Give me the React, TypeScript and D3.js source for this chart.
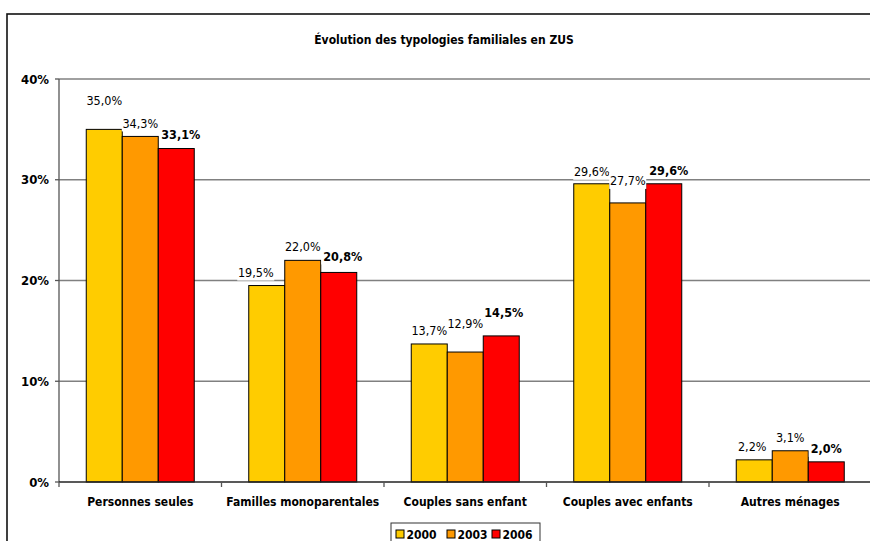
import React from "react";
import * as d3 from "d3";

const title = "Évolution des typologies familiales en ZUS";
const categories = [
  "Personnes seules",
  "Familles monoparentales",
  "Couples sans enfant",
  "Couples avec enfants",
  "Autres ménages",
];
const seriesNames = ["2000", "2003", "2006"];
const values2000 = [35.0, 19.5, 13.7, 29.6, 2.2];
const values2003 = [34.3, 22.0, 12.9, 27.7, 3.1];
const values2006 = [33.1, 20.8, 14.5, 29.6, 2.0];
const yTicks = [0, 10, 20, 30, 40];
const colors = ["#FFCC00", "#FF9900", "#FF0000"];

// label placement nudges (layout only): [dx, extra dy up] per series per category
const labelNudgeX = [
  [0, 0, 4.5],
  [-11, 0, 4],
  [0, 0, 2.5],
  [0, 0, 5],
  [-2, 0, 0],
];
const labelNudgeY = [
  [16, 0, 1],
  [0, 1, 3],
  [0, 16, 10],
  [-1, 9, 0],
  [0, 0, 0],
];

const W = 870;
const H = 541;
const FONT = "'DejaVu Sans Condensed', 'DejaVu Sans', sans-serif";

export default function App() {
  const seriesValues = [values2000, values2003, values2006];
  const plotLeft = 59;
  const plotRight = 871.5;
  const y = d3.scaleLinear().domain([0, 40]).range([482, 79]);
  const x0 = d3.scaleBand<string>().domain(categories).range([plotLeft, plotRight]).padding(0);
  const groupW = 108;
  const x1 = d3.scaleBand<string>().domain(seriesNames).range([0, groupW]).padding(0);
  const fmt = (v: number) => d3.format(".1f")(v).replace(".", ",") + "%";

  const labels: React.ReactNode[] = [];
  const bars: React.ReactNode[] = [];
  categories.forEach((c, ci) => {
    const gx = (x0(c) as number) + (x0.bandwidth() - groupW) / 2;
    seriesNames.forEach((s, si) => {
      const v = seriesValues[si][ci];
      const bx = gx + (x1(s) as number);
      const bw = x1.bandwidth();
      bars.push(
        <rect
          key={`b${ci}-${si}`}
          x={bx}
          y={y(v)}
          width={bw}
          height={y(0) - y(v)}
          fill={colors[si]}
          stroke="#000"
          strokeWidth={1}
        />
      );
      const bold = si === 2;
      const text = fmt(v);
      const cx = bx + bw / 2 + labelNudgeX[ci][si];
      const cy = y(v) - 13 - labelNudgeY[ci][si];
      const tw = text.length * (bold ? 8 : 7) + (bold ? 1 : 0);
      labels.push(
        <g key={`l${ci}-${si}`}>
          <rect x={cx - tw / 2 - 1} y={cy - 8} width={tw + 2} height={16} fill="#fff" />
          <text
            x={cx}
            y={cy + 4.5}
            textAnchor="middle"
            fontFamily={FONT}
            fontSize={12.5}
            fontWeight={bold ? "bold" : "normal"}
            fill="#000"
          >
            {text}
          </text>
        </g>
      );
    });
  });

  const legendX = 391;
  const legendY = 523;

  return (
    <svg
      width={W}
      height={H}
      style={{ position: "absolute", left: 0, top: 0, background: "#fff" }}
    >
      <rect x={0} y={0} width={W} height={H} fill="#fff" />
      <rect x={7} y={14} width={W + 20} height={H + 20} fill="#fff" stroke="#111" strokeWidth={1.6} />
      <text
        x={444}
        y={44}
        textAnchor="middle"
        fontFamily={FONT}
        fontSize={12}
        fontWeight="bold"
      >
        {title}
      </text>
      {/* gridlines */}
      {yTicks.filter((t) => t > 0).map((t) => (
        <line key={`g${t}`} x1={plotLeft} x2={plotRight} y1={y(t)} y2={y(t)} stroke="#808080" strokeWidth={1.5} />
      ))}
      {/* y axis */}
      <line x1={plotLeft} x2={plotLeft} y1={y(40)} y2={y(0)} stroke="#555" strokeWidth={1.3} />
      {yTicks.map((t) => (
        <g key={`t${t}`}>
          <line x1={plotLeft - 4} x2={plotLeft} y1={y(t)} y2={y(t)} stroke="#555" strokeWidth={1.3} />
          <text
            x={49}
            y={y(t) + 4.5}
            textAnchor="end"
            fontFamily={FONT}
            fontSize={13}
            fontWeight="bold"
          >
            {t + "%"}
          </text>
        </g>
      ))}
      {bars}
      {/* x axis */}
      <line x1={plotLeft} x2={plotRight} y1={y(0)} y2={y(0)} stroke="#222" strokeWidth={1.3} />
      {categories.map((c, ci) => (
        <line
          key={`xt${ci}`}
          x1={x0(c) as number}
          x2={x0(c) as number}
          y1={y(0)}
          y2={y(0) + 5}
          stroke="#555"
          strokeWidth={1.3}
        />
      ))}
      {categories.map((c) => (
        <text
          key={`c${c}`}
          x={(x0(c) as number) + x0.bandwidth() / 2}
          y={506}
          textAnchor="middle"
          fontFamily={FONT}
          fontSize={12}
          fontWeight="bold"
        >
          {c}
        </text>
      ))}
      {labels}
      {/* legend */}
      <rect x={legendX} y={legendY} width={149} height={30} fill="#fff" stroke="#333" strokeWidth={1} />
      {seriesNames.map((s, si) => {
        const offs = [5, 56, 101];
        const lx = legendX + offs[si];
        return (
          <g key={`lg${s}`}>
            <rect x={lx} y={530} width={8} height={8} fill={colors[si]} stroke="#000" strokeWidth={1} />
            <text x={lx + 10.5} y={538.5} fontFamily={FONT} fontSize={12} fontWeight="bold">
              {s}
            </text>
          </g>
        );
      })}
    </svg>
  );
}
